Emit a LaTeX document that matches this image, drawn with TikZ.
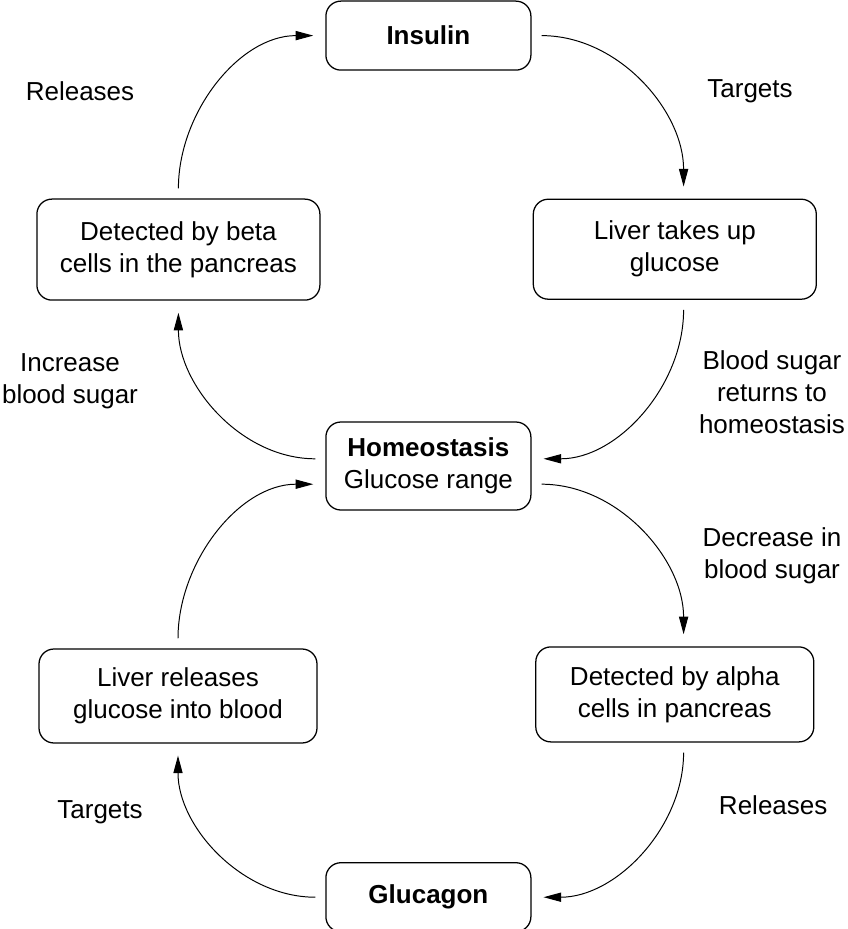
\documentclass[tikz,border=0pt]{standalone}
\usepackage{fontspec}
\setmainfont{Liberation Sans}
\usetikzlibrary{arrows.meta,calc}

\begin{document}
\begin{tikzpicture}[font=\fontsize{18.5}{22.8}\selectfont,
  box/.style={draw,line width=0.9pt,rounded corners=0.375cm,align=center,inner sep=0pt},
  flow/.style={line width=0.7pt,-{Triangle[length=4.4mm,width=2.3mm]},shorten <=0.25cm,shorten >=0.3cm}]
\useasboundingbox (0,0) rectangle (21.175,-23.225);
% boxes
\node[box,minimum width=5.125cm,minimum height=1.725cm] (insulin) at (10.71,-0.89) {\textbf{Insulin}};
\node[box,minimum width=7.075cm,minimum height=2.525cm] (beta) at (4.46,-6.24) {Detected by beta\\cells in the pancreas};
\node[box,minimum width=7.075cm,minimum height=2.5cm] (livup) at (16.87,-6.23) {Liver takes up\\glucose};
\node[box,minimum width=5.125cm,minimum height=2.2cm] (home) at (10.71,-11.65) {\textbf{Homeostasis}\\Glucose range};
\node[box,minimum width=6.95cm,minimum height=2.35cm] (livrel) at (4.45,-17.4) {Liver releases\\glucose into blood};
\node[box,minimum width=6.95cm,minimum height=2.375cm] (alpha) at (16.87,-17.36) {Detected by alpha\\cells in pancreas};
\node[box,minimum width=5.125cm,minimum height=1.725cm] (glucagon) at (10.71,-22.43) {\textbf{Glucagon}};
% insulin loop
\draw[flow] (beta.north) to[out=90,in=180] (insulin.west);
\draw[flow] (insulin.east) to[out=0,in=90] ($(livup.north)+(0.22,0)$);
\draw[flow] ($(livup.south)+(0.22,0)$) to[out=-90,in=0] (home.4);
\draw[flow] (home.176) to[out=180,in=-90] (beta.south);
% glucagon loop
\draw[flow] (home.350) to[out=0,in=90] ($(alpha.north)+(0.22,0)$);
\draw[flow] ($(alpha.south)+(0.22,0)$) to[out=-90,in=0] (glucagon.east);
\draw[flow] (glucagon.west) to[out=180,in=-90] (livrel.south);
\draw[flow] (livrel.north) to[out=90,in=180] (home.190);
% labels
\node (relins) at (2.0,-2.275) {Releases};
\node (tarins) at (18.75,-2.275) {Targets};
\node[align=center] (incr) at (1.75,-9.525) {Increase\\blood sugar};
\node[align=center] (back) at (19.3,-9.8) {Blood sugar\\returns to\\homeostasis};
\node[align=center] (decr) at (19.3,-13.9) {Decrease in\\blood sugar};
\node (targlu) at (2.5,-20.3) {Targets};
\node (relglu) at (19.33,-20.125) {Releases};
\end{tikzpicture}
\end{document}
